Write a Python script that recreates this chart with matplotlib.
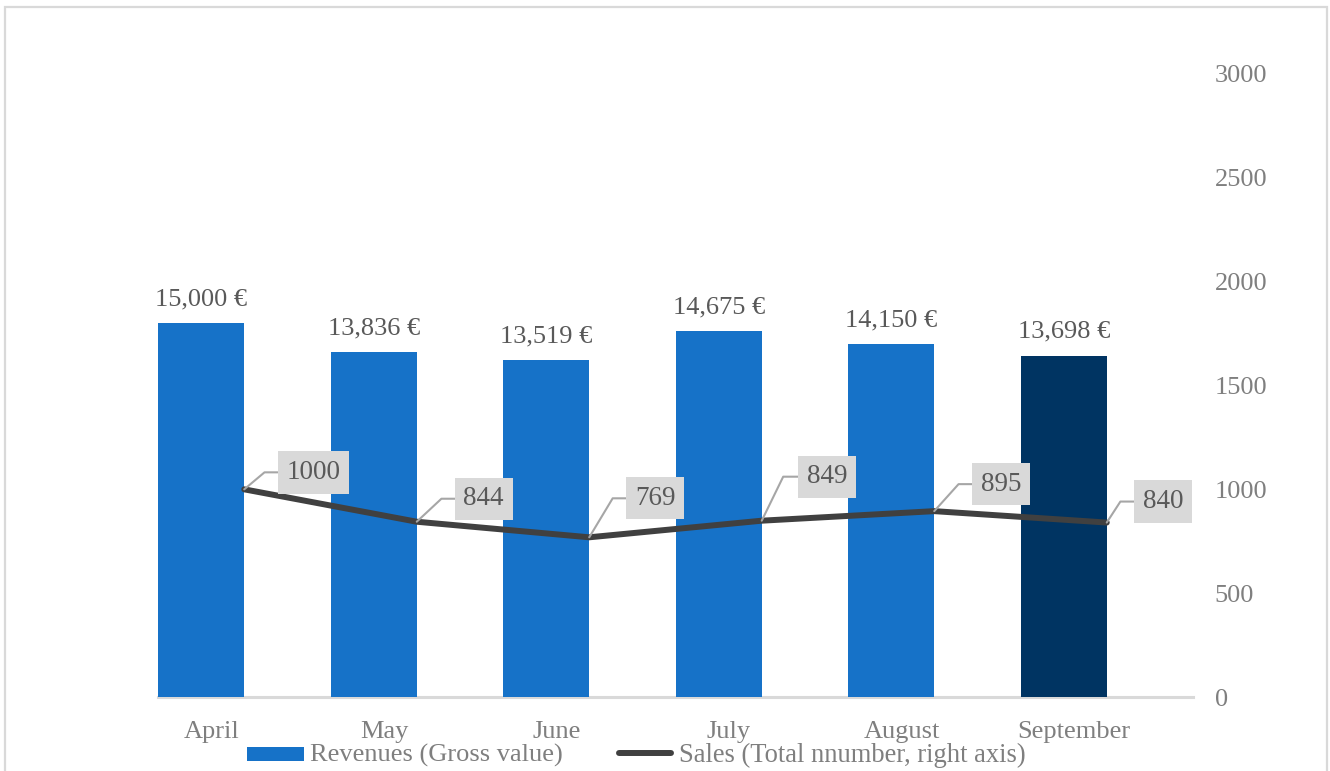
import matplotlib
matplotlib.use("Agg")
import matplotlib.pyplot as plt
import matplotlib.transforms as mtransforms
from matplotlib.patches import Rectangle
from matplotlib.lines import Line2D

# Monthly figures
months = ["April", "May", "June", "July", "August", "September"]
revenues = [15000, 13836, 13519, 14675, 14150, 13698]
sales = [1000, 844, 769, 849, 895, 840]
revenue_labels = ["15,000 €", "13,836 €", "13,519 €", "14,675 €", "14,150 €", "13,698 €"]
sales_ticks = [0, 500, 1000, 1500, 2000, 2500, 3000]

# Callout placement for the sales labels (pixels from the point, leader angle)
callout_offsets = [(69, 17), (67, 23), (66, 39), (65, 44), (67, 27), (56, 21)]
leader_angles = [40, 43, 59, 64, 48, 57]

plt.rcParams["font.family"] = ["Liberation Serif", "DejaVu Serif"]

W, H, DPI = 1330, 771, 100
fig = plt.figure(figsize=(W / DPI, H / DPI), dpi=DPI)

left_px, right_px, bottom_px, top_px = 158, 1193, 697, 74
ax = fig.add_axes([left_px / W, 1 - bottom_px / H,
                   (right_px - left_px) / W, (bottom_px - top_px) / H])
ax2 = ax.twinx()

blue = "#1672C8"
navy = "#003462"
x = list(range(len(months)))
colors = [blue] * (len(months) - 1) + [navy]

# Revenue bars sit in the left half of each category slot
ax.bar([i - 0.25 for i in x], revenues, width=0.5, color=colors, zorder=2)
ax.set_xlim(-0.5, len(months) - 0.5)
ax.set_ylim(0, 25000)

for i, (v, lab) in enumerate(zip(revenues, revenue_labels)):
    ax.annotate(lab, xy=(i - 0.25, v), xytext=(0, 13), textcoords="offset points",
                ha="center", va="baseline", fontsize=19, color="#595959")

# Sales line on the right axis
ax2.plot(x, sales, color="#404040", lw=4.3, solid_capstyle="round", zorder=3)
ax2.set_ylim(0, 3000)
ax2.set_yticks(sales_ticks)
ax2.set_yticklabels([str(t) for t in sales_ticks])
ax2.tick_params(axis="y", length=0, pad=15.5, labelsize=19, labelcolor="#7f7f7f")

for i, (v, (dx, dy), ang) in enumerate(zip(sales, callout_offsets, leader_angles)):
    ax2.annotate(str(v), xy=(i, v), xytext=(dx, dy), textcoords="offset pixels",
                 ha="center", va="center", fontsize=19.5, color="#595959",
                 bbox=dict(boxstyle="square,pad=0.32", fc="#d9d9d9", ec="none"),
                 arrowprops=dict(arrowstyle="-", color="#a6a6a6", lw=1.5,
                                 shrinkA=0, shrinkB=0,
                                 connectionstyle=f"angle,angleA=0,angleB={ang},rad=0"),
                 zorder=4)

for a in (ax, ax2):
    for side in ("top", "right", "left", "bottom"):
        a.spines[side].set_visible(False)
ax.set_yticks([])
ax.set_xticks([])
ax.axhline(0, color="#d9d9d9", lw=2.2, zorder=1, clip_on=False)

# Category labels
trans = mtransforms.blended_transform_factory(ax.transData, fig.transFigure)
for i, m in enumerate(months):
    fig.text(i - 0.19, 1 - 738 / H, m, transform=trans, ha="center", va="baseline",
             fontsize=19, color="#7f7f7f")

# Legend
fig.add_artist(Rectangle((247 / W, 1 - 761 / H), 57 / W, 14 / H,
                         transform=fig.transFigure, fc=blue, ec="none"))
fig.text(310 / W, 1 - 762 / H, "Revenues (Gross value)", ha="left", va="baseline",
         fontsize=19, color="#7f7f7f")
fig.add_artist(Line2D([619 / W, 671 / W], [1 - 753 / H, 1 - 753 / H],
                      transform=fig.transFigure, color="#404040", lw=4.3,
                      solid_capstyle="round"))
fig.text(679 / W, 1 - 762 / H, "Sales (Total nnumber, right axis)", ha="left",
         va="baseline", fontsize=19.1, color="#7f7f7f")

# Chart frame
fig.add_artist(Rectangle((4.5 / W, -0.05), (1327 - 4.5) / W, 1.05 - 7.5 / H,
                         transform=fig.transFigure, fc="none", ec="#d9d9d9", lw=1.6))

fig.savefig("out.png", dpi=DPI)
